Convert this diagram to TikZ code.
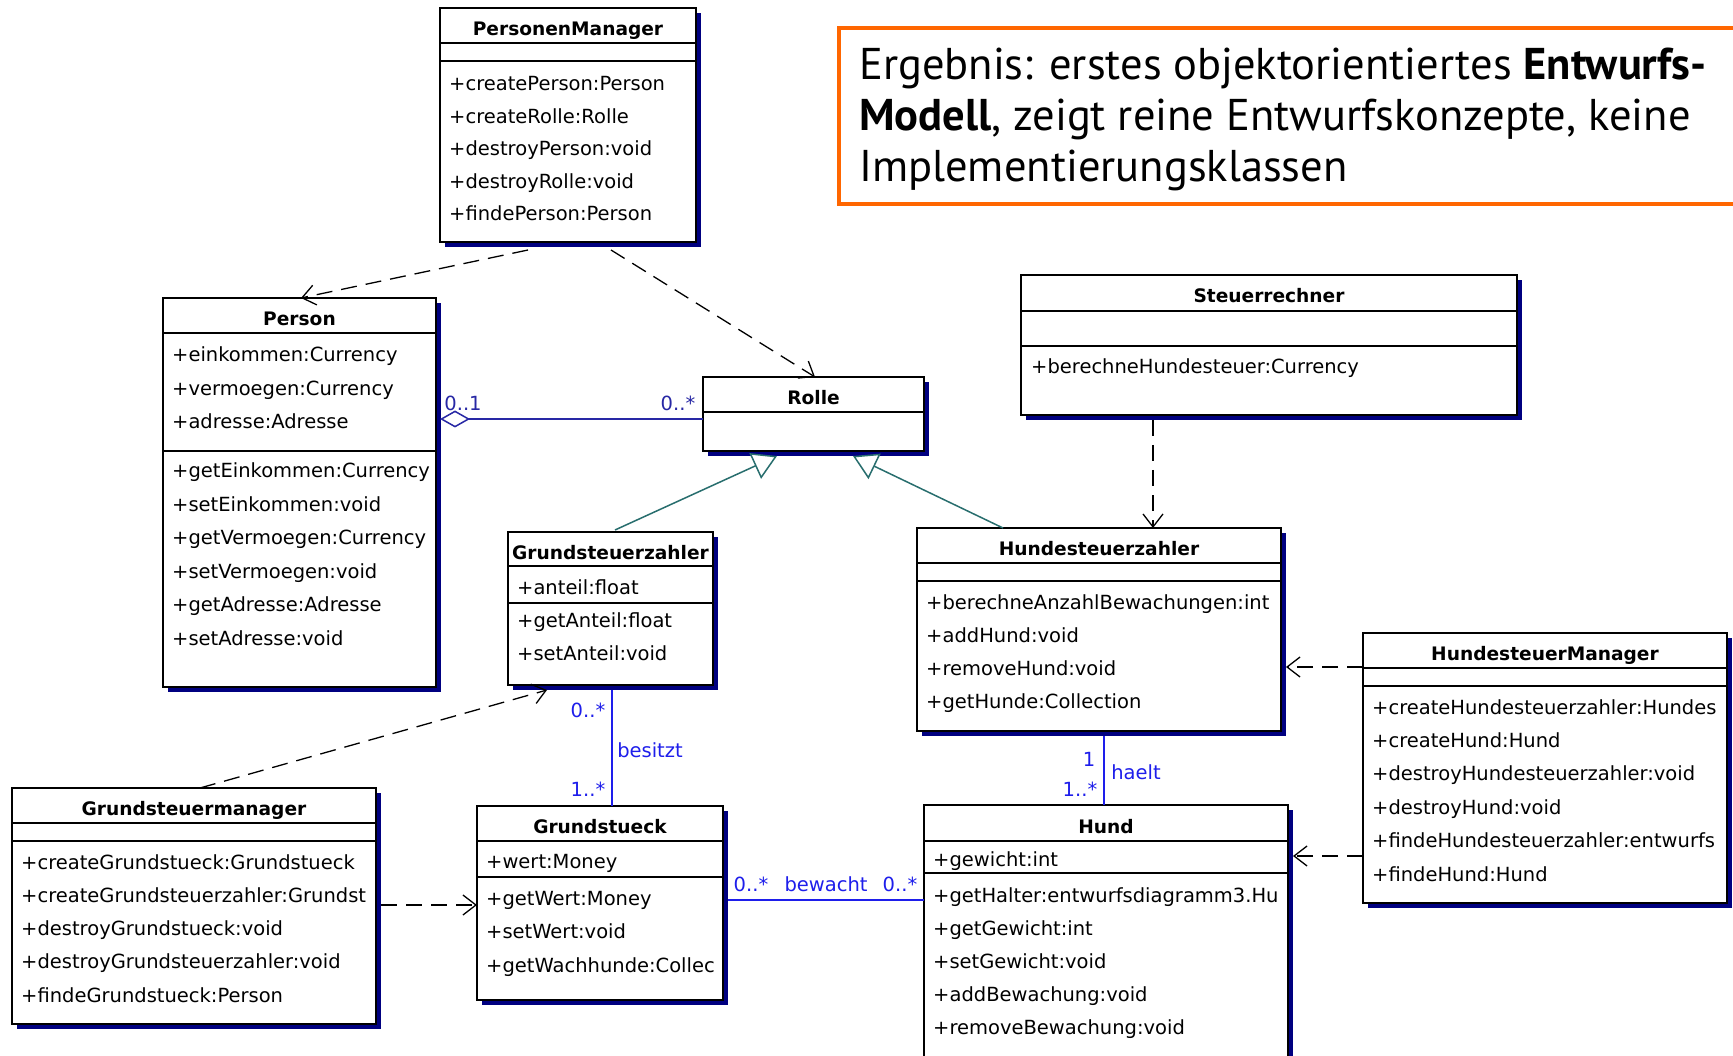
\documentclass[tikz,border=0pt]{standalone}
\usepackage{fontspec}
\newfontfamily\umlfont{DejaVu Sans}
\newfontfamily\notefont{PT Sans}
\usetikzlibrary{arrows.meta,shadows}

\definecolor{shadowblue}{RGB}{0,0,128}
\definecolor{aggblue}{RGB}{40,40,165}
\definecolor{assocblue}{RGB}{30,30,235}
\definecolor{genteal}{RGB}{40,110,110}
\definecolor{noteorange}{RGB}{255,102,0}

\newcommand{\membfont}{\umlfont\fontsize{19.5}{22}\selectfont}
\newcommand{\titlefont}{\umlfont\bfseries\fontsize{18.6}{22}\selectfont}

\tikzset{
  classbox/.style={draw=black, line width=2pt, fill=white, anchor=north west,
    inner sep=0pt, outer sep=0pt,
    drop shadow={fill=shadowblue, opacity=1, shadow xshift=5pt, shadow yshift=-5pt}},
  compline/.style={line width=2pt},
  classtitle/.style={font=\titlefont, inner sep=0pt, text height=14pt, text depth=0pt},
  member/.style={font=\membfont, anchor=base west, inner sep=0pt},
  mult/.style={font=\membfont, text=assocblue, inner sep=0pt, text height=14pt, text depth=0pt},
  notetext/.style={font=\notefont\fontsize{44.5}{52}\selectfont, anchor=base west, inner sep=0pt},
  dep/.style={draw=black, line width=1.3pt, dash pattern=on 16pt off 9pt,
    -{Straight Barb[length=13pt,width=20pt,line width=1.3pt]}},
  gen/.style={draw=genteal, line width=1.5pt,
    -{Triangle[open, fill=white, length=24pt, width=28pt, line width=1.5pt]}},
  agg/.style={draw=aggblue, line width=1.5pt,
    {Diamond[open, fill=white, length=30pt, width=17pt, line width=1.5pt]}-},
  assoc/.style={draw=assocblue, line width=1.8pt},
}

% class box: name, x1, y1, x2, y2, title divider, second divider, title
\newcommand{\umlclass}[8]{%
  \node[classbox, minimum width={(#4)-(#2)}, minimum height={(#5)-(#3)}] (#1) at (#2,#3) {};
  \draw[compline] (#2,#6) -- (#4,#6);
  \draw[compline] (#2,#7) -- (#4,#7);
  \node[classtitle] (#1-title) at ({((#2)+(#4))/2},{((#3)+(#6))/2+3}) {#8};
}
% member rows: name prefix, x, first row centre y, row spacing, list
\newcommand{\rows}[5]{%
  \foreach \t [count=\i from 0] in {#5} {
    \node[member] (#1-\i) at (#2, {#3+\i*#4+7}) {\t};
  }
}

\begin{document}
\begin{tikzpicture}[x=1pt,y=-1pt]
\clip (0,0) rectangle (1733,1056);
\fill[white] (0,0) rectangle (1733,1056);

% ---------- note ----------
\node[draw=noteorange, line width=4pt, anchor=north west, minimum width=930pt,
  minimum height=176pt, inner sep=0pt] (notebox) at (837,26) {};
\node[notetext] (note-1) at (859,80) {Ergebnis: erstes objektorientiertes \textbf{Entwurfs-}};
\node[notetext] (note-2) at (859,131) {\textbf{Modell}, zeigt reine Entwurfskonzepte, keine};
\node[notetext] (note-3) at (859,182) {Implementierungsklassen};

% ---------- classes ----------
\umlclass{pm}{440}{8}{696}{242}{43}{61}{PersonenManager}
\begin{scope}
  \clip (441,8) rectangle (694,242);
  \rows{pmops}{449}{84}{32.5}{+createPerson:Person,+createRolle:Rolle,+destroyPerson:void,+destroyRolle:void,+findePerson:Person}
\end{scope}

\umlclass{person}{163}{298}{436}{687}{333}{451}{Person}
\begin{scope}
  \clip (164,298) rectangle (434,687);
  \rows{personattr}{172}{355}{33.5}{+einkommen:Currency,+vermoegen:Currency,+adresse:Adresse}
  \rows{personops}{172}{471}{33.4}{+getEinkommen:Currency,+setEinkommen:void,+getVermoegen:Currency,+setVermoegen:void,+getAdresse:Adresse,+setAdresse:void}
\end{scope}

\umlclass{rolle}{703}{377}{924}{451}{412}{412}{Rolle}

\umlclass{sr}{1021}{275}{1517}{415}{311}{346}{Steuerrechner}
\rows{srops}{1031}{367}{33}{+berechneHundesteuer:Currency}

\umlclass{gz}{508}{532}{713}{685}{566}{603}{Grundsteuerzahler}
\begin{scope}
  \clip (509,532) rectangle (711,685);
  \rows{gzattr}{517}{587}{33}{+anteil:float}
  \rows{gzops}{517}{620}{33}{+getAnteil:float,+setAnteil:void}
\end{scope}

\umlclass{hz}{917}{528}{1281}{731}{563}{581}{Hundesteuerzahler}
\begin{scope}
  \clip (918,528) rectangle (1279,731);
  \rows{hzops}{926}{602}{33.3}{+berechneAnzahlBewachungen:int,+addHund:void,+removeHund:void,+getHunde:Collection}
\end{scope}

\umlclass{hm}{1363}{633}{1727}{903}{668}{686}{HundesteuerManager}
\begin{scope}
  \clip (1364,633) rectangle (1722,903);
  \rows{hmops}{1372}{707}{33.4}{+createHundesteuerzahler:Hundes,+createHund:Hund,+destroyHundesteuerzahler:void,+destroyHund:void,+findeHundesteuerzahler:entwurfs,+findeHund:Hund}
\end{scope}

\umlclass{gm}{12}{788}{376}{1024}{823}{841}{Grundsteuermanager}
\begin{scope}
  \clip (13,788) rectangle (373,1024);
  \rows{gmops}{21}{862}{33.3}{+createGrundstueck:Grundstueck,+createGrundsteuerzahler:Grundst,+destroyGrundstueck:void,+destroyGrundsteuerzahler:void,+findeGrundstueck:Person}
\end{scope}

\umlclass{gs}{477}{806}{723}{1000}{841}{877}{Grundstueck}
\begin{scope}
  \clip (478,806) rectangle (720,1000);
  \rows{gsattr}{486}{861}{33}{+wert:Money}
  \rows{gsops}{486}{898}{33.5}{+getWert:Money,+setWert:void,+getWachhunde:Collec}
\end{scope}

\umlclass{hund}{924}{805}{1288}{1080}{841}{873}{Hund}
\begin{scope}
  \clip (925,805) rectangle (1286,1080);
  \rows{hundattr}{933}{859}{33}{+gewicht:int}
  \rows{hundops}{933}{895}{33}{+getHalter:entwurfsdiagramm3.Hu,+getGewicht:int,+setGewicht:void,+addBewachung:void,+removeBewachung:void}
\end{scope}

% ---------- dependencies ----------
\draw[dep] ([xshift=88pt,yshift=-8pt]pm.south west) -- ([xshift=138pt]person.north west);
\draw[dep] ([xshift=171pt,yshift=-8pt]pm.south west) -- ([xshift=112pt]rolle.north west);
\draw[dep] ([xshift=132pt,yshift=-5pt]sr.south west) -- ([xshift=236pt]hz.north west);
\draw[dep] ([yshift=-34pt]hm.north west) -- ([xshift=5pt,yshift=-139pt]hz.north east);
\draw[dep] ([yshift=-223pt]hm.north west) -- ([xshift=5pt,yshift=-51pt]hund.north east);
\draw[dep] ([xshift=188pt]gm.north west) -- ([xshift=39pt,yshift=-5pt]gz.south west);
\draw[dep] ([xshift=5pt,yshift=-117pt]gm.north east) -- ([yshift=-99pt]gs.north west);

% ---------- generalisations ----------
\draw[gen] ([xshift=107pt,yshift=2pt]gz.north west) -- ([xshift=74pt,yshift=-5pt]rolle.south west);
\draw[gen] ([xshift=86pt]hz.north west) -- ([xshift=150pt,yshift=-5pt]rolle.south west);

% ---------- aggregation Person - Rolle ----------
\draw[agg] ([xshift=4pt,yshift=-121pt]person.north east) -- ([yshift=-42pt]rolle.north west);
\node[mult, text=aggblue] (agg-m1) at (463,404) {0..1};
\node[mult, text=aggblue] (agg-m2) at (678,404) {0..*};

% ---------- associations ----------
\draw[assoc] ([xshift=104pt,yshift=-5pt]gz.south west) -- ([xshift=135pt]gs.north west);
\node[mult] (bes-m1) at (588,710) {0..*};
\node[mult] (bes-label) at (650,750) {besitzt};
\node[mult] (bes-m2) at (588,789) {1..*};

\draw[assoc] ([xshift=187pt,yshift=-5pt]hz.south west) -- ([xshift=180pt]hund.north west);
\node[mult] (hae-m1) at (1089,759) {1};
\node[mult] (hae-label) at (1136,772) {haelt};
\node[mult] (hae-m2) at (1080,789) {1..*};

\draw[assoc] ([xshift=5pt,yshift=-94pt]gs.north east) -- ([yshift=-95pt]hund.north west);
\node[mult] (bew-m1) at (751,884) {0..*};
\node[mult] (bew-label) at (826,884) {bewacht};
\node[mult] (bew-m2) at (900,884) {0..*};
\end{tikzpicture}
\end{document}
